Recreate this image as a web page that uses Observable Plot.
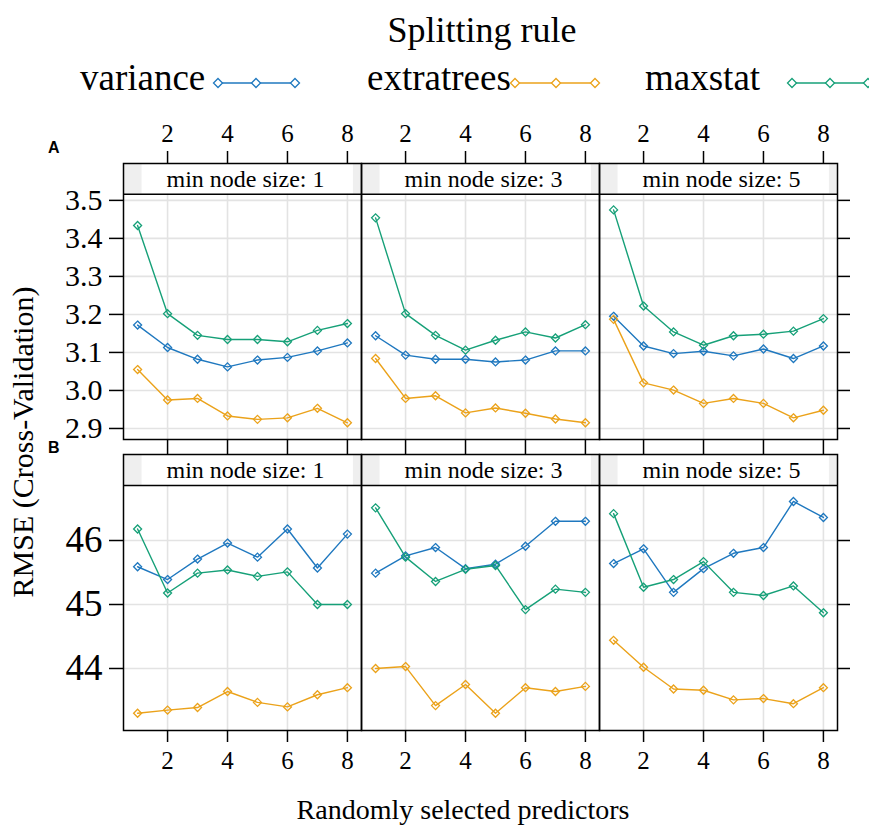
<!DOCTYPE html>
<html><head><meta charset="utf-8">
<script src="https://cdn.jsdelivr.net/npm/d3@7"></script>
<script src="https://cdn.jsdelivr.net/npm/@observablehq/plot@0.6"></script>
<style>
body{margin:0;background:#fff;}
#wrap{position:relative;width:869px;height:825px;overflow:hidden;background:#fff;font-family:"Liberation Serif","Times New Roman",serif;}
#wrap > .pa{position:absolute;left:0;}
#overlay{position:absolute;left:0;top:0;}
.tag{font-family:"Liberation Sans",Arial,sans-serif;font-weight:bold;}
</style></head><body><div id="wrap"></div>
<script>
const predictors = [1, 2, 3, 4, 5, 6, 7, 8];
const nodeSizes = [1, 3, 5];
const rules = ["variance", "extratrees", "maxstat"];
const ruleColors = ["#1f78bf", "#eba21a", "#16a078"];
const xTicks = [2, 4, 6, 8];
const yTicksA = [2.9, 3.0, 3.1, 3.2, 3.3, 3.4, 3.5];
const yTicksB = [44, 45, 46];
const stripLabels = ["min node size: 1", "min node size: 3", "min node size: 5"];

// Panel A values (RMSE) by splitting rule and min node size
const aVariance1 = [3.172, 3.113, 3.082, 3.062, 3.080, 3.087, 3.104, 3.125];
const aVariance3 = [3.144, 3.093, 3.082, 3.082, 3.075, 3.080, 3.104, 3.104];
const aVariance5 = [3.195, 3.117, 3.097, 3.103, 3.091, 3.109, 3.084, 3.117];
const aExtra1 = [3.055, 2.975, 2.979, 2.933, 2.924, 2.928, 2.953, 2.915];
const aExtra3 = [3.084, 2.979, 2.986, 2.941, 2.954, 2.940, 2.925, 2.915];
const aExtra5 = [3.187, 3.020, 3.001, 2.966, 2.979, 2.966, 2.928, 2.948];
const aMaxstat1 = [3.434, 3.202, 3.145, 3.134, 3.134, 3.128, 3.158, 3.176];
const aMaxstat3 = [3.454, 3.202, 3.145, 3.106, 3.132, 3.154, 3.138, 3.173];
const aMaxstat5 = [3.475, 3.222, 3.154, 3.119, 3.144, 3.148, 3.156, 3.189];

// Panel B values (RMSE)
const bVariance1 = [45.59, 45.39, 45.71, 45.96, 45.74, 46.18, 45.57, 46.10];
const bVariance3 = [45.49, 45.76, 45.89, 45.56, 45.63, 45.91, 46.30, 46.30];
const bVariance5 = [45.64, 45.87, 45.19, 45.56, 45.80, 45.89, 46.61, 46.36];
const bExtra1 = [43.30, 43.35, 43.39, 43.64, 43.47, 43.40, 43.59, 43.70];
const bExtra3 = [44.00, 44.03, 43.42, 43.75, 43.30, 43.70, 43.64, 43.72];
const bExtra5 = [44.44, 44.02, 43.68, 43.66, 43.51, 43.53, 43.45, 43.70];
const bMaxstat1 = [46.18, 45.18, 45.49, 45.54, 45.44, 45.51, 45.00, 45.00];
const bMaxstat3 = [46.51, 45.74, 45.36, 45.55, 45.61, 44.92, 45.24, 45.19];
const bMaxstat5 = [46.42, 45.27, 45.39, 45.67, 45.19, 45.14, 45.29, 44.87];

function toRows(table) {
  const out = [];
  for (const [rule, node, vals] of table)
    vals.forEach((v, i) => out.push({rule, node, p: predictors[i], v}));
  return out;
}
const rowsA = toRows([
  ["variance", 1, aVariance1], ["variance", 3, aVariance3], ["variance", 5, aVariance5],
  ["extratrees", 1, aExtra1], ["extratrees", 3, aExtra3], ["extratrees", 5, aExtra5],
  ["maxstat", 1, aMaxstat1], ["maxstat", 3, aMaxstat3], ["maxstat", 5, aMaxstat5]
]);
const rowsB = toRows([
  ["variance", 1, bVariance1], ["variance", 3, bVariance3], ["variance", 5, bVariance5],
  ["extratrees", 1, bExtra1], ["extratrees", 3, bExtra3], ["extratrees", 5, bExtra5],
  ["maxstat", 1, bMaxstat1], ["maxstat", 3, bMaxstat3], ["maxstat", 5, bMaxstat5]
]);

const serif = "Liberation Serif";
const xDomain = [0.53, 8.47];
const gridColor = "#e3e3e3";

function panelRow(o) {
  const stripMid = (o.stripBottom + o.yTop) / 2;
  const axes = [];
  if (o.topLabels) {
    axes.push(Plot.axisX({anchor: "top", ticks: xTicks, tickSize: 13, tickPadding: 9, fontSize: 25, fontFamily: serif, strokeWidth: 1.5, label: null}));
    axes.push(Plot.axisX({anchor: "bottom", ticks: xTicks, tickSize: 15, tickFormat: () => "", strokeWidth: 1.5, label: null}));
  } else {
    axes.push(Plot.axisX({anchor: "bottom", ticks: xTicks, tickSize: 12, tickPadding: 9, fontSize: 25, fontFamily: serif, strokeWidth: 1.5, label: null}));
  }
  axes.push(Plot.axisY({anchor: "left", ticks: o.yTicks, tickSize: 14, tickPadding: 7, fontSize: o.yFont, fontFamily: serif, tickFormat: o.fmt, strokeWidth: 1.5, label: null}));
  axes.push(Plot.axisY({anchor: "right", ticks: o.yTicks, tickSize: 12, tickFormat: () => "", strokeWidth: 1.5, label: null}));
  return Plot.plot({
    width: 869, height: o.height,
    marginLeft: 122, marginRight: 32, marginTop: o.mt, marginBottom: o.mb,
    style: {background: "transparent", fontFamily: serif, fontSize: "25px", color: "black", overflow: "visible"},
    x: {domain: xDomain, label: null},
    y: {domain: [o.yLo, o.yTop], label: null},
    fx: {domain: nodeSizes, padding: 0, axis: null, label: null},
    color: {domain: rules, range: ruleColors},
    marks: [
      Plot.rect([0], {x1: xDomain[0], x2: xDomain[1], y1: o.stripBottom, y2: o.yTop, fill: "#efefef"}),
      Plot.rect([0], {x1: 1.15, x2: 8.2, y1: o.stripBottom, y2: o.yTop, fill: "white"}),
      Plot.ruleY(o.yTicks, {stroke: gridColor, strokeWidth: 1.6}),
      Plot.ruleX(xTicks, {y1: o.yLo, y2: o.stripBottom, stroke: gridColor, strokeWidth: 1.6}),
      Plot.line(o.data, {x: "p", y: "v", z: "rule", stroke: "rule", fx: "node", strokeWidth: 1.4}),
      Plot.dot(o.data, {x: "p", y: "v", stroke: "rule", fx: "node", symbol: "diamond2", r: 3.6, strokeWidth: 1.3, fill: "none"}),
      Plot.text(nodeSizes, {fx: d => d, x: 4.6, y: stripMid, text: d => stripLabels[nodeSizes.indexOf(d)], fontSize: 24, fontFamily: serif, fill: "black"}),
      Plot.ruleY([o.stripBottom], {stroke: "black", strokeWidth: 1.5}),
      Plot.frame({stroke: "black", strokeWidth: 1.5}),
      ...axes
    ]
  });
}

function forceSerif(svg) {
  svg.querySelectorAll("text, g").forEach(el => {
    el.setAttribute("font-family", serif);
    el.style.fontFamily = "'Liberation Serif', serif";
  });
}

const wrap = document.getElementById("wrap");

const plotA = panelRow({
  data: rowsA, height: 344, mt: 53, mb: 15,
  yLo: 2.871, yTop: 3.597, stripBottom: 3.516,
  yTicks: yTicksA, yFont: 30, fmt: d3.format(".1f"), topLabels: true
});
plotA.classList.add("pa");
plotA.style.top = "110px";
forceSerif(plotA);
wrap.appendChild(plotA);

const plotB = panelRow({
  data: rowsB, height: 335, mt: 4, mb: 55,
  yLo: 43.031, yTop: 47.344, stripBottom: 46.859,
  yTicks: yTicksB, yFont: 37, fmt: d3.format("d"), topLabels: false
});
plotB.classList.add("pa");
plotB.style.top = "450px";
forceSerif(plotB);
wrap.appendChild(plotB);

// Overlay: title, legend, panel tags, axis titles
const NS = "http://www.w3.org/2000/svg";
const ov = document.createElementNS(NS, "svg");
ov.setAttribute("id", "overlay");
ov.setAttribute("width", 869);
ov.setAttribute("height", 825);
wrap.appendChild(ov);
function txt(s, x, y, attrs) {
  const t = document.createElementNS(NS, "text");
  t.textContent = s;
  t.setAttribute("x", x); t.setAttribute("y", y);
  for (const k in attrs) t.setAttribute(k, attrs[k]);
  ov.appendChild(t);
  return t;
}
txt("Splitting rule", 482, 42, {"font-size": 36, "text-anchor": "middle"});
const legendText = [80, 367, 645];
const legendSwatch = [[218, 256, 295], [515, 556, 595], [792, 830, 868]];
rules.forEach((r, i) => {
  txt(r, legendText[i], 90, {"font-size": 37});
  const xs = legendSwatch[i];
  const ln = document.createElementNS(NS, "line");
  ln.setAttribute("x1", xs[0]); ln.setAttribute("x2", xs[2]);
  ln.setAttribute("y1", 83); ln.setAttribute("y2", 83);
  ln.setAttribute("stroke", ruleColors[i]); ln.setAttribute("stroke-width", 1.6);
  ov.appendChild(ln);
  xs.forEach(x => {
    const p = document.createElementNS(NS, "path");
    p.setAttribute("d", `M${x},${83 - 4.5}L${x + 4.5},83L${x},${83 + 4.5}L${x - 4.5},83Z`);
    p.setAttribute("fill", "white"); p.setAttribute("stroke", ruleColors[i]); p.setAttribute("stroke-width", 1.3);
    ov.appendChild(p);
  });
});
txt("A", 48, 153, {"font-size": 16, "class": "tag"});
txt("B", 48, 453, {"font-size": 16, "class": "tag"});
txt("RMSE (Cross-Validation)", 0, 0, {"font-size": 30, "text-anchor": "middle", "transform": "translate(33,442) rotate(-90)"});
txt("Randomly selected predictors", 463, 819, {"font-size": 28, "text-anchor": "middle"});
</script></body></html>
